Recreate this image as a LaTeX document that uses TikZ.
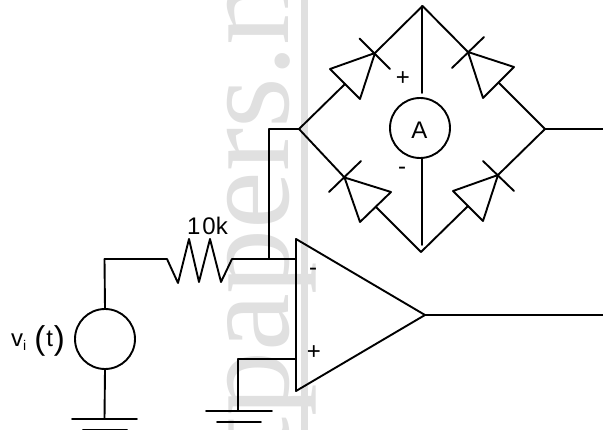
\documentclass[tikz,border=0pt]{standalone}
\usepackage{fontspec}
\setmainfont{Liberation Sans}
\newfontfamily\wmfont{Liberation Serif}
\tikzset{
  x=1pt,y=-1pt,
  wire/.style={draw=black,line width=1.9pt,line cap=round,line join=round},
  dev/.style={circle,draw=black,line width=1.9pt,minimum size=60pt,inner sep=0pt,fill=none},
  lab/.style={inner sep=0pt,font=\fontsize{24}{28}\selectfont},
  wm/.style={text=black!12,inner sep=0pt,rotate=90,anchor=base east,font=\wmfont\fontsize{130}{130}\selectfont}
}
\newcommand{\bridgediode}[6]{% name, apex, base1, base2, bar1, bar2
  \draw[wire] (#2) -- (#3) -- (#4) -- cycle;
  \draw[wire] (#5) -- (#6);
}
\begin{document}
\begin{tikzpicture}
\useasboundingbox (0,0) rectangle (603,430);
\fill[white] (0,0) rectangle (603,430);
\begin{scope}
\clip (0,0) rectangle (603,430);
\node[wm] (wm) at (288,-20) {tpapers.n};
\fill[black!12] (301,0) rectangle (308,430);
\end{scope}

\coordinate (T) at (422.5,6);
\coordinate (L) at (299,129);
\coordinate (R) at (545,129);
\coordinate (B) at (421,252);
\coordinate (Rout) at (603,129);
\coordinate (LJ) at (269,129);
\coordinate (NJ) at (269,259);

% bridge diodes
\coordinate (d1a) at (375,53);
\coordinate (d1b) at (345,84);
\bridgediode{d1}{d1a}{330,69}{360,99}{359.5,38.5}{390,69}
\draw[wire] (L) -- (d1b);
\draw[wire] (d1a) -- (T);

\coordinate (d2a) at (468,52);
\coordinate (d2b) at (499,83);
\bridgediode{d2}{d2a}{514,67}{483,98}{452,68}{484,37}
\draw[wire] (R) -- (d2b);
\draw[wire] (d2a) -- (T);

\coordinate (d3a) at (344.5,177.5);
\coordinate (d3b) at (376,207);
\bridgediode{d3}{d3a}{391,192}{360,222}{329,192}{361,161}
\draw[wire] (B) -- (d3b);
\draw[wire] (d3a) -- (L);

\coordinate (d4a) at (498,175);
\coordinate (d4b) at (468,206);
\bridgediode{d4}{d4a}{453,191}{483,221}{483,161}{514,191}
\draw[wire] (B) -- (d4b);
\draw[wire] (d4a) -- (R);

% ammeter
\node[dev] (A) at (420,128) {};
\node[lab] (Atxt) at (419.5,130) {A};
\coordinate (At) at (422,93);
\coordinate (Ab) at (422,158);
\coordinate (Bt) at (422,245);
\coordinate (Tt) at (422,6);
\draw[wire] (Tt) -- (At);
\draw[wire] (Ab) -- (Bt);
\node[lab] (Aplus) at (403,79) {+};
\node[lab] (Aminus) at (402,171) {-};

% right and left bridge leads
\draw[wire] (R) -- (Rout);
\draw[wire] (L) -- (LJ) -- (NJ);

% op-amp
\coordinate (O1) at (296,239);
\coordinate (O2) at (296,391);
\coordinate (O3) at (425,315);
\coordinate (Oout) at (603,315);
\draw[wire] (O1) -- (O2) -- (O3) -- cycle;
\draw[wire] (O3) -- (Oout);
\node[lab] (Ominus) at (313,272) {-};
\node[lab] (Oplus) at (314,353) {+};

% resistor and input
\coordinate (Vt) at (104.5,259);
\coordinate (Rl) at (167,259);
\coordinate (Rr) at (232,259);
\coordinate (Om) at (296,259);
\draw[wire] (Vt) -- (Rl) -- (178,283) -- (189,239) -- (199,282) -- (210,239) -- (221,282) -- (Rr) -- (Om);
\node[lab,anchor=base] (Rtxt) at (207.5,235) {1\kern2pt 0k};

% source
\node[dev] (V) at (105,339) {};
\draw[wire] (Vt) -- (V.north);
\coordinate (G1) at (104.5,419);
\draw[wire] (V.south) -- (G1);
\coordinate (G1a) at (72,419);
\coordinate (G1b) at (137,419);
\coordinate (G1c) at (83,429.5);
\coordinate (G1d) at (127,429.5);
\draw[wire] (G1a) -- (G1b);
\draw[wire] (G1c) -- (G1d);
\node[lab,anchor=base west] (Vtxt) at (11,347) {v\raisebox{-4pt}{\fontsize{14}{16}\selectfont i}\kern8pt\raisebox{-3pt}{\fontsize{33}{36}\selectfont (}\kern1pt t\kern1pt\raisebox{-3pt}{\fontsize{33}{36}\selectfont )}};

% non-inverting input ground
\coordinate (Op) at (296,359);
\coordinate (Gc) at (238,359);
\coordinate (G2) at (238,411);
\draw[wire] (Op) -- (Gc) -- (G2);
\coordinate (G2a) at (206,411);
\coordinate (G2b) at (272,411);
\coordinate (G2c) at (217,422);
\coordinate (G2d) at (261,422);
\draw[wire] (G2a) -- (G2b);
\draw[wire] (G2c) -- (G2d);
\end{tikzpicture}
\end{document}
